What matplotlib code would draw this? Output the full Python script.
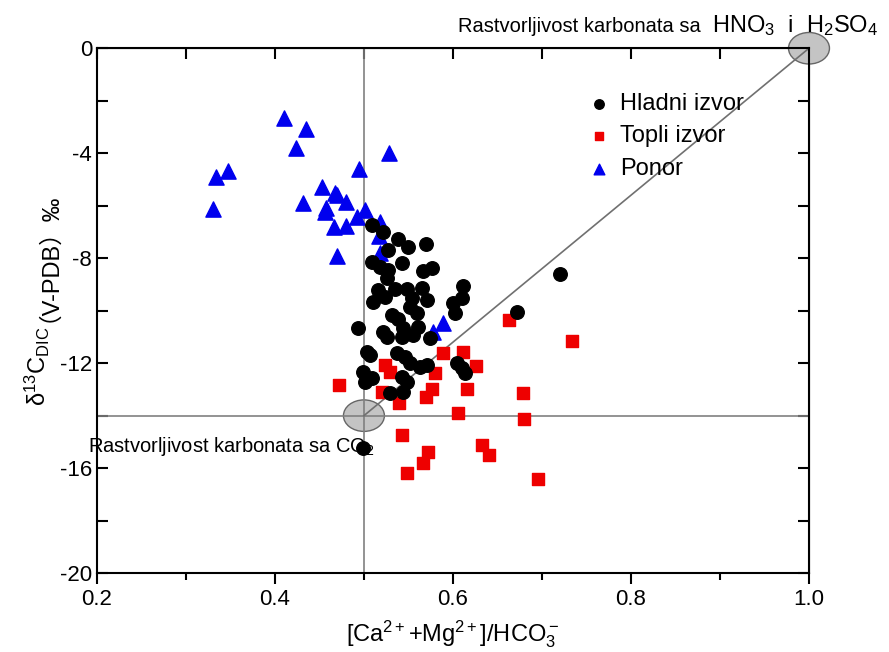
import matplotlib
matplotlib.use("Agg")
import matplotlib.pyplot as plt
from matplotlib.patches import Ellipse
from matplotlib.ticker import MultipleLocator

plt.rcParams['font.family'] = ['Liberation Sans', 'Noto Sans CJK SC', 'DejaVu Sans']
plt.rcParams['mathtext.fontset'] = 'custom'
plt.rcParams['mathtext.rm'] = 'Liberation Sans'
plt.rcParams['mathtext.it'] = 'Liberation Sans'
plt.rcParams['mathtext.bf'] = 'Liberation Sans:bold'

# Hladni izvor (cold springs)
cold_x = [0.509, 0.521, 0.538, 0.549, 0.570, 0.527, 0.509, 0.518, 0.527, 0.543,
          0.566, 0.576, 0.526, 0.611, 0.516, 0.535, 0.548, 0.565, 0.610, 0.510,
          0.524, 0.554, 0.571, 0.600, 0.552, 0.602, 0.560, 0.531, 0.538, 0.672,
          0.493, 0.521, 0.544, 0.561, 0.526, 0.543, 0.555, 0.574, 0.503, 0.507,
          0.537, 0.546, 0.552, 0.563, 0.571, 0.499, 0.509, 0.501, 0.543, 0.548,
          0.544, 0.529, 0.605, 0.610, 0.613, 0.720, 0.499]
cold_y = [-6.74, -7.00, -7.28, -7.57, -7.47, -7.70, -8.14, -8.33, -8.46, -8.18,
          -8.49, -8.38, -8.77, -9.07, -9.22, -9.18, -9.18, -9.14, -9.52, -9.68,
          -9.47, -9.52, -9.60, -9.72, -9.87, -10.10, -10.10, -10.17, -10.30, -10.05,
          -10.67, -10.80, -10.67, -10.63, -11.00, -11.00, -10.93, -11.05, -11.58, -11.70,
          -11.62, -11.77, -12.00, -12.15, -12.08, -12.34, -12.57, -12.72, -12.53, -12.72,
          -13.10, -13.14, -12.00, -12.19, -12.38, -8.61, -15.24]

# Topli izvor (warm springs)
warm_x = [0.472, 0.524, 0.529, 0.520, 0.539, 0.543, 0.572, 0.566, 0.548, 0.580,
          0.576, 0.570, 0.589, 0.611, 0.626, 0.616, 0.606, 0.633, 0.640, 0.679,
          0.680, 0.696, 0.734, 0.663]
warm_y = [-12.84, -12.08, -12.34, -13.10, -13.52, -14.74, -15.39, -15.81, -16.19, -12.38,
          -12.99, -13.30, -11.62, -11.58, -12.11, -12.99, -13.90, -15.12, -15.50, -13.14,
          -14.13, -16.42, -11.16, -10.36]

# Ponor (sinkholes)
sink_x = [0.410, 0.435, 0.424, 0.528, 0.347, 0.334, 0.494, 0.330, 0.453, 0.467,
          0.470, 0.480, 0.431, 0.457, 0.456, 0.501, 0.492, 0.466, 0.480, 0.470,
          0.518, 0.517, 0.518, 0.578, 0.589]
sink_y = [-2.67, -3.09, -3.81, -4.00, -4.69, -4.91, -4.61, -6.13, -5.30, -5.52,
          -5.60, -5.87, -5.90, -6.10, -6.25, -6.17, -6.44, -6.80, -6.78, -7.92,
          -6.63, -7.15, -7.80, -10.80, -10.48]

fig = plt.figure(figsize=(8.89, 6.52), dpi=100)
ax = fig.add_axes([0.109, 0.121, 0.801, 0.805])

ax.set_xlim(0.2, 1.0)
ax.set_ylim(-20, 0)

# reference lines and end-member ellipses
ax.axvline(0.5, color="#808080", lw=1.2, zorder=2)
ax.axhline(-14, color="#808080", lw=1.2, zorder=2)
ax.plot([0.5, 1.0], [-14, 0], color="#707070", lw=1.2, zorder=2, clip_on=False)
for cx, cy in [(0.5, -14), (1.0, 0)]:
    ax.add_patch(Ellipse((cx, cy), 0.046, 1.2, facecolor="#c4c4c4", edgecolor="#666666",
                         lw=1.0, zorder=1.5, clip_on=False))

ax.scatter(cold_x, cold_y, s=95, marker="o", color="black", zorder=4, label="Hladni izvor")
ax.scatter(warm_x, warm_y, s=80, marker="s", color="#ee0000", zorder=3, label="Topli izvor")
ax.scatter(sink_x, sink_y, s=120, marker="^", color="#0000ee", zorder=3, label="Ponor")

ax.legend(loc="upper left", bbox_to_anchor=(0.678, 0.933), frameon=False, fontsize=17,
          handlelength=0.8, handletextpad=0.5, labelspacing=0.45, markerscale=0.7,
          borderaxespad=0)

# annotations
fig.text(458 / 889, 1 - 32 / 652, "Rastvorljivost karbonata sa", fontsize=14.5, ha="left", va="baseline")
fig.text(712 / 889, 1 - 32 / 652, "HNO$_3$  i  H$_2$SO$_4$", fontsize=17, ha="left", va="baseline")
fig.text(88 / 889, 1 - 452 / 652, "Rastvorljivost karbonata sa CO$_2$", fontsize=14.5,
         ha="left", va="baseline", zorder=1)

# axes styling
for sp in ax.spines.values():
    sp.set_linewidth(1.5)
ax.xaxis.set_major_locator(MultipleLocator(0.2))
ax.xaxis.set_minor_locator(MultipleLocator(0.1))
ax.yaxis.set_major_locator(MultipleLocator(4))
ax.yaxis.set_minor_locator(MultipleLocator(2))
ax.tick_params(axis="x", which="major", direction="out", length=8, width=1.5, labelsize=16)
ax.tick_params(axis="x", which="minor", direction="out", length=5, width=1.5)
ax.tick_params(axis="y", which="major", direction="in", length=8, width=1.5, labelsize=16)
ax.tick_params(axis="y", which="minor", direction="in", length=8, width=1.5)
ax.xaxis.set_major_formatter(plt.FuncFormatter(lambda v, p: f"{v:.1f}"))
ax.yaxis.set_major_formatter(plt.FuncFormatter(lambda v, p: f"{v:.0f}"))

# inward ticks on top and right
top = ax.secondary_xaxis("top")
top.set_xticks([0.2, 0.3, 0.4, 0.5, 0.6, 0.7, 0.8, 0.9, 1.0])
top.tick_params(direction="in", length=8, width=1.5, labeltop=False)
right = ax.secondary_yaxis("right")
right.set_yticks(list(range(-20, 1, 2)))
right.tick_params(direction="in", length=8, width=1.5, labelright=False)

ax.set_xlabel("[Ca$^{2+}$+Mg$^{2+}$]/HCO$_3^-$", fontsize=17, labelpad=6)

# y label in two pieces so the full-width brackets come from the CJK font
fig.text(37 / 889, 1 - 326 / 652, "δ$^{13}$C$_{DIC}$", fontsize=17, rotation=90,
         ha="center", va="top")
fig.text(37 / 889, 1 - 322 / 652, "（V-PDB）‰", fontsize=17, rotation=90,
         ha="center", va="bottom")

fig.savefig("out.png", dpi=100)
